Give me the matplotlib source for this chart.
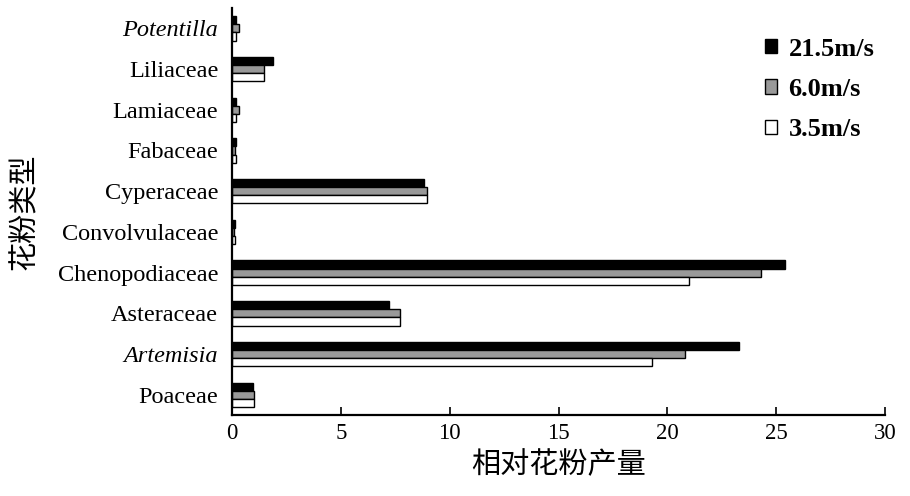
import matplotlib.pyplot as plt
import numpy as np

plt.rcParams['font.family'] = ['Liberation Serif', 'Noto Sans CJK SC']

taxa = ['Poaceae', 'Artemisia', 'Asteraceae', 'Chenopodiaceae', 'Convolvulaceae',
        'Cyperaceae', 'Fabaceae', 'Lamiaceae', 'Liliaceae', 'Potentilla']
italic_taxa = {'Artemisia', 'Potentilla'}

wind_215 = [0.95, 23.3, 7.2, 25.4, 0.15, 8.8, 0.17, 0.17, 1.9, 0.17]
wind_60 = [1.0, 20.8, 7.7, 24.3, 0.1, 8.95, 0.14, 0.33, 1.48, 0.3]
wind_35 = [1.0, 19.3, 7.7, 21.0, 0.15, 8.95, 0.2, 0.17, 1.48, 0.2]

series = [('21.5m/s', wind_215, 'black'),
          ('6.0m/s', wind_60, '#999999'),
          ('3.5m/s', wind_35, 'white')]

fig = plt.figure(figsize=(9.1, 4.96), dpi=100)
ax = fig.add_axes([0.255, 0.163, 0.7175, 0.821])

y = np.arange(len(taxa))
h = 0.2
offsets = [h, 0, -h]
for (label, vals, color), off in zip(series, offsets):
    ax.barh(y + off, vals, height=h, color=color, edgecolor='black',
            linewidth=1.0, label=label)

ax.set_xlim(0, 30)
ax.set_ylim(-0.5, 9.5)
ax.set_xticks(range(0, 31, 5))
ax.set_yticks(y)
ax.set_yticklabels(taxa, fontsize=17.5)
for t in ax.get_yticklabels():
    if t.get_text() in italic_taxa:
        t.set_fontstyle('italic')
ax.tick_params(axis='x', direction='in', length=6, width=1.2, labelsize=16.5, pad=6)
ax.tick_params(axis='y', length=0, pad=10)

for s in ['top', 'right']:
    ax.spines[s].set_visible(False)
for s in ['left', 'bottom']:
    ax.spines[s].set_linewidth(1.6)

ax.set_xlabel('相对花粉产量', family=['Noto Sans CJK SC'], fontsize=21, labelpad=4)
ax.set_ylabel('花粉类型', family=['Noto Sans CJK SC'], fontsize=21, labelpad=13)

ax.legend(loc='upper right', bbox_to_anchor=(1.02, 0.985), frameon=False,
          prop={'family': 'Liberation Serif', 'weight': 'bold', 'size': 19},
          handlelength=0.45, handleheight=0.45, handletextpad=0.45, labelspacing=0.65)

fig.savefig('out.png', dpi=100)
